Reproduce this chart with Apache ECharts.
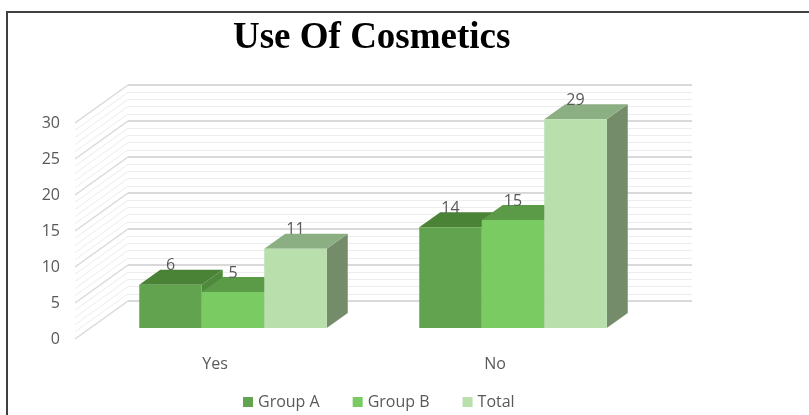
<!DOCTYPE html>
<html>
<head>
<meta charset="utf-8">
<script src="https://cdn.jsdelivr.net/npm/echarts@6/dist/echarts.min.js"></script>
<style>html,body{margin:0;padding:0;background:#fff}#c{width:809px;height:415px}</style>
</head>
<body>
<div id="c"></div>
<script>
var categories = ['Yes', 'No'];
var seriesNames = ['Group A', 'Group B', 'Total'];
var groupA = [6, 14];
var groupB = [5, 15];
var total = [11, 29];
var yTicks = [0, 5, 10, 15, 20, 25, 30];
var wallTicks = [];
for (var t = 0; t <= 30; t++) wallTicks.push(t);

var faceColors = [
  {front: '#62a34f', top: '#4a8236', side: '#4f8a3c'},
  {front: '#7acb62', top: '#5b9a47', side: '#5f9f4a'},
  {front: '#b8dfac', top: '#8cae83', side: '#748c6a'}
];
var DX = 21, DY = -15;

function barRenderer(sIdx) {
  return function (params, api) {
    var cat = api.value(0), val = api.value(1);
    var band = api.size([1, 0])[0];
    var bw = band * 0.2232;
    var center = api.coord([cat, 0])[0];
    var x0 = center - 1.5 * bw + sIdx * bw;
    var top = api.coord([cat, val])[1];
    var base = api.coord([cat, 0])[1];
    var c = faceColors[sIdx];
    return {
      type: 'group',
      children: [
        {type: 'polygon', shape: {points: [[x0 + bw, top], [x0 + bw + DX, top + DY], [x0 + bw + DX, base + DY], [x0 + bw, base]]}, style: {fill: c.side}},
        {type: 'polygon', shape: {points: [[x0, top], [x0 + bw, top], [x0 + bw + DX, top + DY], [x0 + DX, top + DY]]}, style: {fill: c.top}},
        {type: 'rect', shape: {x: x0, y: top, width: bw, height: base - top}, style: {fill: c.front}},
        {type: 'text', z2: 100, style: {text: String(val), x: x0 + bw / 2, y: top - 19, align: 'center', verticalAlign: 'middle', fill: '#595959', font: '16px "Open Sans"'}}
      ]
    };
  };
}

var seriesData = [groupA, groupB, total];
var barSeries = seriesData.map(function (arr, i) {
  return {
    name: seriesNames[i],
    type: 'custom',
    xAxisIndex: 2, yAxisIndex: 2,
    itemStyle: {color: faceColors[i].front},
    renderItem: barRenderer(i),
    data: arr.map(function (v, k) { return [k, v]; }),
    z: 10 + i
  };
});

var chart = echarts.init(document.getElementById('c'));
chart.setOption({
  animation: false,
  backgroundColor: '#ffffff',
  title: {
    text: 'Use Of Cosmetics',
    left: 228, top: 15,
    textStyle: {fontFamily: '"Liberation Serif", serif', fontWeight: 'bold', fontSize: 37, color: '#000'}
  },
  graphic: [{
    type: 'rect', shape: {x: 7, y: 12, width: 900, height: 500},
    style: {fill: 'none', stroke: '#404040', lineWidth: 2}, z: 100
  }],
  legend: {
    data: seriesNames,
    left: 238, top: 389,
    icon: 'rect', itemWidth: 10, itemHeight: 10, itemGap: 33,
    textStyle: {fontFamily: '"Open Sans"', fontSize: 16, color: '#595959'}
  },
  grid: [
    {left: 128, top: 85, width: 564, height: 216},
    {left: 75, top: 123, width: 560, height: 216},
    {left: 93, top: 112, width: 560, height: 216}
  ],
  xAxis: [
    {gridIndex: 0, type: 'value', min: 0, max: 1, show: false},
    {gridIndex: 1, type: 'category', data: categories,
      axisLine: {show: false}, axisTick: {show: false},
      axisLabel: {margin: 17, fontFamily: '"Open Sans"', fontSize: 16, color: '#595959'}},
    {gridIndex: 2, type: 'category', data: categories, show: false}
  ],
  yAxis: [
    {gridIndex: 0, type: 'value', min: 0, max: 30, interval: 5,
      axisLine: {show: false}, axisTick: {show: false}, axisLabel: {show: false},
      splitLine: {show: true, lineStyle: {color: '#d9d9d9', width: 2}},
      minorTick: {show: false, splitNumber: 5},
      minorSplitLine: {show: true, lineStyle: {color: '#ededed', width: 1}}},
    {gridIndex: 1, type: 'value', min: 0, max: 30, interval: 5,
      axisLine: {show: false}, axisTick: {show: false}, splitLine: {show: false},
      axisLabel: {margin: 15, fontFamily: '"Open Sans"', fontSize: 16, color: '#595959'}},
    {gridIndex: 2, type: 'value', min: 0, max: 30, show: false}
  ],
  series: [{
    type: 'custom',
    xAxisIndex: 0, yAxisIndex: 0,
    silent: true,
    data: wallTicks,
    renderItem: function (params, api) {
      var v = api.value(0);
      var back = api.coord([0, v]);
      var major = v % 5 === 0;
      return {
        type: 'line',
        shape: {x1: back[0] - 53, y1: back[1] + 38, x2: back[0], y2: back[1]},
        style: {stroke: major ? '#d9d9d9' : '#ededed', lineWidth: major ? 1.5 : 1}
      };
    },
    encode: {y: 0},
    z: 1
  }].concat(barSeries)
});
</script>
</body>
</html>
